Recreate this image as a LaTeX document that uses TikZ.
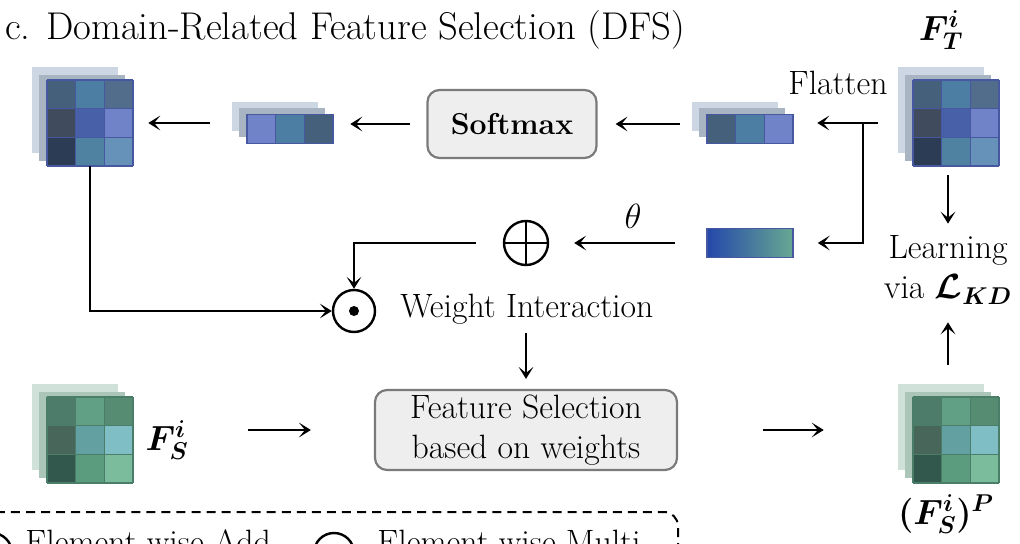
\documentclass[tikz,border=0pt]{standalone}
\usepackage{bm}
\usetikzlibrary{arrows.meta,calc}

\newdimen\px \px=0.025cm

% teacher (blue) palette
\definecolor{t11}{HTML}{45607A}
\definecolor{t12}{HTML}{4C7EA3}
\definecolor{t13}{HTML}{526C8C}
\definecolor{t21}{HTML}{404C5E}
\definecolor{t22}{HTML}{4860A8}
\definecolor{t23}{HTML}{7082C8}
\definecolor{t31}{HTML}{2D3C55}
\definecolor{t32}{HTML}{4E82A0}
\definecolor{t33}{HTML}{6692BA}
\definecolor{tline}{HTML}{4858A0}
\definecolor{tback}{HTML}{CCD7E3}
\definecolor{tmid}{HTML}{A9B4C3}
% student (green) palette
\definecolor{s11}{HTML}{4E7C6A}
\definecolor{s12}{HTML}{62A086}
\definecolor{s13}{HTML}{568C72}
\definecolor{s21}{HTML}{48665A}
\definecolor{s22}{HTML}{62A0A2}
\definecolor{s23}{HTML}{80BEC6}
\definecolor{s31}{HTML}{32584E}
\definecolor{s32}{HTML}{5C9C7E}
\definecolor{s33}{HTML}{7ABC9C}
\definecolor{sline}{HTML}{4A7E68}
\definecolor{sback}{HTML}{D0E1D9}
\definecolor{smid}{HTML}{ABC6B9}
% boxes and weight bar
\definecolor{boxfill}{HTML}{EEEEEE}
\definecolor{boxline}{HTML}{7A7A7A}
\definecolor{gradA}{HTML}{2448AA}
\definecolor{gradB}{HTML}{68A892}

\tikzset{
  every node/.style={font=\fontsize{24}{28.4}\selectfont},
  arr/.style={-{Stealth[length=8.5pt,width=10.5pt,inset=4.3pt]}, line width=2.4\px},
  opnode/.style={circle, draw, line width=2.4\px, minimum size=44\px, inner sep=0},
  procbox/.style={rounded corners=12\px, draw=boxline, fill=boxfill, line width=2.2\px, align=center, inner sep=0},
  mathlabel/.style={font=\fontsize{24}{28}\selectfont, inner sep=0},
}

% 3x3 feature map with two layers behind it
\newcommand{\featmap}[4]{%
  \fill[#4back] (#2-58,#3-56) rectangle ++(86,86);
  \fill[#4mid] (#2-51,#3-48) rectangle ++(86,86);
  \foreach \ro in {1,2,3}
    \foreach \co in {1,2,3}
      \fill[fill=#4\ro\co] ({#2-43+(\co-1)*28.67},{#3-43+(\ro-1)*28.67}) rectangle ++(28.67,28.67);
  \foreach \k in {0,1,2,3} {
    \draw[#4line, line width=1.6\px] ({#2-43+\k*28.67},#3-43) -- ++(0,86);
    \draw[#4line, line width=1.6\px] (#2-43,{#3-43+\k*28.67}) -- ++(86,0);
  }
  \node[minimum size=86\px, inner sep=0] (#1) at (#2,#3) {};
}

% flattened 1x3 vector
\newcommand{\featvec}[7]{%
  \fill[#4back] (#2-58,#3-26.5) rectangle ++(86,29);
  \fill[#4mid] (#2-51,#3-20.5) rectangle ++(86,29);
  \foreach \col [count=\k from 0] in {#5,#6,#7}
    \fill[fill=\col] ({#2-43+\k*28.67},#3-14.5) rectangle ++(28.67,29);
  \foreach \k in {0,1,2,3}
    \draw[#4line, line width=1.6\px] ({#2-43+\k*28.67},#3-14.5) -- ++(0,29);
  \draw[#4line, line width=1.6\px] (#2-43,#3-14.5) rectangle ++(86,29);
  \node[minimum width=86\px, minimum height=29\px, inner sep=0] (#1) at (#2,#3) {};
}

\begin{document}
\begin{tikzpicture}[x=0.025cm, y=-0.025cm]
\useasboundingbox (0,0) rectangle (1020,544);
\clip (0,0) rectangle (1020,544);

% title
\node[anchor=base west, font=\fontsize{27.5}{32}\selectfont, inner sep=0] (title) at (5,40) {c. Domain-Related Feature Selection (DFS)};

% feature maps
\featmap{FT}{956}{123}{t}
\featmap{smap}{90}{123}{t}
\featmap{FS}{90}{440}{s}
\featmap{FP}{956}{440}{s}

% flattened vectors and weights
\featvec{tvec}{750}{129}{t}{t11}{t12}{t23}
\featvec{svec}{290}{129}{t}{t23}{t12}{t11}
\node[draw=tline, line width=1.6\px, left color=gradA, right color=gradB,
      minimum width=86\px, minimum height=29\px, inner sep=0] (wvec) at (750,243) {};

% labels
\node[mathlabel] (FTl) at (941,30) {$\bm{F_T^i}$};
\node[mathlabel] (FSl) at (167,440) {$\bm{F_S^i}$};
\node[mathlabel] (FPl) at (946,514) {$\bm{(F_S^i)^P}$};
\node (flat) at (838,83) {Flatten};
\node[align=center, inner sep=0] (learn) at (948,270) {Learning\\via $\bm{\mathcal{L}_{KD}}$};
\node (theta) at (633,216) {$\theta$};

% process boxes
\node[procbox, minimum width=169\px, minimum height=68\px] (soft) at (512,124) {\fontsize{21.5}{26}\selectfont\textbf{Softmax}};
\node[procbox, minimum width=302\px, minimum height=80\px] (fsel) at (526,430) {Feature Selection\\based on weights};

% operators
\node[opnode] (plus) at (526,243) {};
\draw[line width=2.4\px] (plus.north) -- (plus.south) (plus.west) -- (plus.east);
\node[opnode, minimum size=42\px] (dot) at (354,311) {};
\fill (dot) circle (5);
\node[anchor=base west, inner sep=0] (wint) at (400,318) {Weight Interaction};

% connectors
\coordinate (br) at (863,123);
\draw[arr, shorten >=24\px] (FT.west -| br) -- (FT.west -| tvec.east);
\draw[line width=2.4\px] (FT.west -| br) -- ++(15,0);
\draw[arr, shorten >=24\px] (br) |- (wvec.east);
\draw[arr, shorten <=27\px, shorten >=18\px] (tvec.west |- soft.east) -- (soft.east);
\draw[arr, shorten <=16\px, shorten >=17\px] (soft.west) -- (soft.west -| svec.east);
\draw[arr, shorten <=37\px, shorten >=15\px] (svec.west |- smap.east) -- (smap.east);
\draw[arr] (smap.south) |- (dot.west);
\draw[arr, shorten <=31\px, shorten >=25\px] (wvec.west) -- (plus.east);
\draw[arr, shorten <=27\px] (plus.west) -| (dot.north);
\draw[arr, shorten <=8\px, shorten >=10\px] (wint.south -| fsel.north) -- (fsel.north);
\draw[arr, shorten <=115\px, shorten >=63\px] (FS.east |- fsel.west) -- (fsel.west);
\draw[arr, shorten <=85\px, shorten >=89\px] (fsel.east) -- (fsel.east -| FP.west);
\draw[arr, shorten <=9\px, shorten >=12\px] (learn.north |- FT.south) -- (learn.north);
\draw[arr, shorten <=32\px, shorten >=18\px] (learn.south |- FP.north) -- (learn.south);

% legend (cut by the lower edge)
\draw[dashed, dash pattern=on 6.4pt off 4.3pt, line width=2\px, rounded corners=14\px] (-30,512) rectangle (678,620);
\node[opnode, minimum size=40\px] (lplus) at (-8,553) {};
\draw[line width=2.4\px] (lplus.north) -- (lplus.south) (lplus.west) -- (lplus.east);
\node[anchor=base west, inner sep=0] (ladd) at (25,553) {Element-wise Add};
\node[opnode, minimum size=40\px] (ldot) at (334,553) {};
\fill (ldot) circle (5);
\node[anchor=base west, inner sep=0] (lmul) at (377,553) {Element-wise Multi};
\end{tikzpicture}
\end{document}
